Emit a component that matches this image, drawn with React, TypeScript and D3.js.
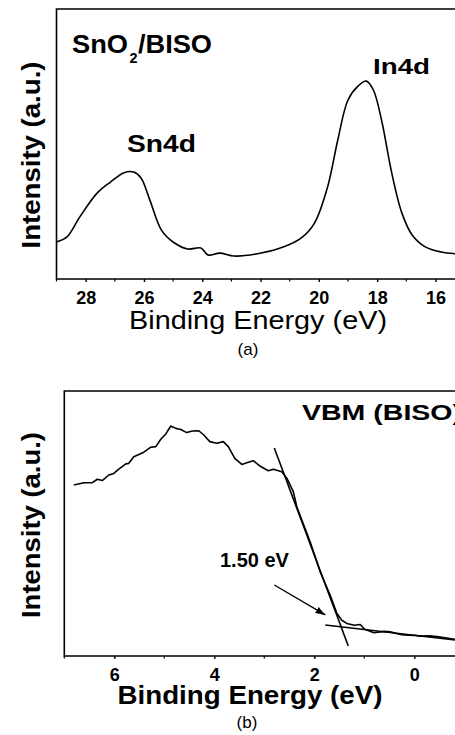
import React, { useEffect, useRef } from "react";
import * as d3 from "d3";

// panel (a): SnO2/BISO core levels
const energyA = [29, 28.64, 28.2, 27.6, 27.15, 26.7, 26.35, 26.1, 25.8, 25.4, 25.0, 24.5, 24.05, 23.8, 23.4, 22.9, 21.98, 21.2, 20.6, 20.15, 19.7, 19.35, 19.0, 18.65, 18.37, 18.13, 17.85, 17.5, 17.15, 16.8, 16.35, 15.8, 15.25];
const intensityA = [13.7, 15.6, 23.0, 31.9, 35.9, 39.3, 39.6, 37.4, 29.3, 18.1, 13.7, 11.1, 11.5, 8.9, 9.6, 8.5, 9.6, 11.9, 15.2, 20.7, 34.1, 51.5, 66.3, 71.5, 73.3, 70.0, 58.9, 39.3, 24.4, 16.3, 11.9, 10.0, 9.3];
const ticksA = [28, 26, 24, 22, 20, 18, 16];
const minorA = [29, 27, 25, 23, 21, 19, 17, 15];

// panel (b): valence band
const energyB = [6.81, 6.61, 6.44, 6.34, 6.24, 6.11, 6.01, 5.91, 5.77, 5.71, 5.61, 5.41, 5.27, 5.17, 5.07, 4.97, 4.87, 4.77, 4.67, 4.55, 4.44, 4.31, 4.21, 4.09, 3.95, 3.82, 3.72, 3.59, 3.45, 3.32, 3.22, 3.09, 2.92, 2.82, 2.65, 2.55, 2.42, 2.35, 2.08, 1.88, 1.68, 1.55, 1.45, 1.35, 1.2, 1.08, 1.0, 0.81, 0.6, 0.48, 0.3, 0.21, 0.0, -0.12, -0.3, -0.45, -0.82];
const intensityB = [64.5, 65.4, 65.4, 66.7, 66.2, 68.3, 68.9, 70.5, 72.5, 72.7, 75.2, 76.9, 78.8, 79.0, 81.8, 83.8, 86.8, 85.9, 85.5, 84.3, 84.9, 85.0, 83.4, 80.9, 80.3, 80.9, 79.0, 74.6, 72.3, 73.1, 73.7, 71.7, 69.9, 70.5, 69.5, 67.1, 62.0, 56.3, 42.9, 31.6, 22.8, 16.1, 13.5, 12.3, 11.6, 11.9, 10.2, 8.8, 9.3, 9.1, 8.2, 7.9, 7.8, 7.5, 7.6, 7.3, 6.3];
const ticksB = [6, 4, 2, 0];
const minorB = [7, 5, 3, 1, -1];

// linear extrapolation lines and arrow for the VBM onset
const edgeLine = [[2.8, 78.5], [1.32, 3.8]];
const baseLine = [[1.78, 11.7], [-0.82, 6.0]];
const arrowPts = [[2.8, 26.8], [1.78, 15.5]];

const font = "'Liberation Sans', Arial, sans-serif";

function App() {
  const ref = useRef(null);

  useEffect(() => {
    const svg = d3.select(ref.current);
    svg.selectAll("*").remove();

    svg.append("rect").attr("width", 455).attr("height", 735).attr("fill", "#fff");

    svg.append("defs").append("marker")
      .attr("id", "arrowhead")
      .attr("viewBox", "0 0 10 10")
      .attr("refX", 10).attr("refY", 5)
      .attr("markerWidth", 7).attr("markerHeight", 7)
      .attr("orient", "auto")
      .append("path")
      .attr("d", "M0,1.5 L10,5 L0,8.5 Z")
      .attr("fill", "#000");

    // ---------- panel (a) ----------
    const xA = d3.scaleLinear().domain([29, 15]).range([56.5, 56.5 + 14 * 29.15]);
    const yA = d3.scaleLinear().domain([0, 100]).range([279, 9]);

    const gA = svg.append("g");
    // frame
    gA.append("path")
      .attr("d", `M${xA(15)},${yA(100)} L${xA(29)},${yA(100)} L${xA(29)},${yA(0)} L${xA(15)},${yA(0)}`)
      .attr("fill", "none").attr("stroke", "#000").attr("stroke-width", 1.6);

    const axA = gA.append("g")
      .attr("transform", `translate(0,${yA(0)})`)
      .call(d3.axisBottom(xA).tickValues(ticksA).tickSize(3).tickSizeOuter(0));
    axA.select(".domain").remove();
    axA.selectAll("line").attr("stroke-width", 1.4);
    axA.selectAll("text")
      .attr("y", 25).attr("dy", 0)
      .style("font-family", font).style("font-size", "18px").style("font-weight", "bold")
      .attr("fill", "#000");
    gA.append("g").selectAll("line").data(minorA).enter().append("line")
      .attr("x1", d => xA(d)).attr("x2", d => xA(d))
      .attr("y1", yA(0)).attr("y2", yA(0) + 2.5)
      .attr("stroke", "#000").attr("stroke-width", 1.2);

    const lineA = d3.line()
      .x(i => xA(energyA[i]))
      .y(i => yA(intensityA[i]))
      .curve(d3.curveCatmullRom.alpha(0.5));
    gA.append("path")
      .attr("d", lineA(d3.range(energyA.length)))
      .attr("fill", "none").attr("stroke", "#000").attr("stroke-width", 1.6);

    gA.append("text")
      .attr("x", 258).attr("y", 329)
      .attr("text-anchor", "middle")
      .attr("textLength", 258).attr("lengthAdjust", "spacingAndGlyphs")
      .style("font-family", font).style("font-size", "26px")
      .text("Binding Energy (eV)");

    gA.append("text")
      .attr("transform", `translate(40,155) rotate(-90)`)
      .attr("text-anchor", "middle")
      .attr("textLength", 187).attr("lengthAdjust", "spacingAndGlyphs")
      .style("font-family", font).style("font-size", "26px").style("font-weight", "bold")
      .text("Intensity (a.u.)");

    const lbl = (g, x, y, size, len, txt) =>
      g.append("text")
        .attr("x", x).attr("y", y)
        .attr("textLength", len).attr("lengthAdjust", "spacingAndGlyphs")
        .style("font-family", font).style("font-size", size + "px").style("font-weight", "bold")
        .text(txt);

    lbl(gA, 72, 53, 25, 56, "SnO");
    lbl(gA, 129.5, 63, 15, 8, "2");
    lbl(gA, 138, 53, 25, 74, "/BISO");
    lbl(gA, 373, 74, 22, 57, "In4d");
    lbl(gA, 127, 152, 23, 69, "Sn4d");

    gA.append("text")
      .attr("x", 248).attr("y", 355)
      .attr("text-anchor", "middle")
      .style("font-family", font).style("font-size", "17px")
      .text("(a)");

    // ---------- panel (b) ----------
    const xB = d3.scaleLinear().domain([7, -1]).range([64.3, 464.3]);
    const yB = d3.scaleLinear().domain([0, 100]).range([656, 391]);

    const gB = svg.append("g");
    gB.append("path")
      .attr("d", `M${xB(-1)},${yB(100)} L${xB(7)},${yB(100)} L${xB(7)},${yB(0)} L${xB(-1)},${yB(0)}`)
      .attr("fill", "none").attr("stroke", "#000").attr("stroke-width", 1.6);

    const axB = gB.append("g")
      .attr("transform", `translate(0,${yB(0)})`)
      .call(d3.axisBottom(xB).tickValues(ticksB).tickSize(3).tickSizeOuter(0));
    axB.select(".domain").remove();
    axB.selectAll("line").attr("stroke-width", 1.4);
    axB.selectAll("text")
      .attr("y", 25).attr("dy", 0)
      .style("font-family", font).style("font-size", "18px").style("font-weight", "bold")
      .attr("fill", "#000");
    gB.append("g").selectAll("line").data(minorB).enter().append("line")
      .attr("x1", d => xB(d)).attr("x2", d => xB(d))
      .attr("y1", yB(0)).attr("y2", yB(0) + 2.5)
      .attr("stroke", "#000").attr("stroke-width", 1.2);

    const lineB = d3.line()
      .x(i => xB(energyB[i]))
      .y(i => yB(intensityB[i]))
      .curve(d3.curveLinear);
    gB.append("path")
      .attr("d", lineB(d3.range(energyB.length)))
      .attr("fill", "none").attr("stroke", "#000").attr("stroke-width", 1.6)
      .attr("stroke-linejoin", "round");

    const seg = d3.line().x(d => xB(d[0])).y(d => yB(d[1]));
    gB.append("path").attr("d", seg(edgeLine))
      .attr("fill", "none").attr("stroke", "#000").attr("stroke-width", 1.6);
    gB.append("path").attr("d", seg(baseLine))
      .attr("fill", "none").attr("stroke", "#000").attr("stroke-width", 1.6);
    gB.append("path").attr("d", seg(arrowPts))
      .attr("fill", "none").attr("stroke", "#000").attr("stroke-width", 1.4)
      .attr("marker-end", "url(#arrowhead)");

    gB.append("text")
      .attr("x", 220).attr("y", 567)
      .style("font-family", font).style("font-size", "20px").style("font-weight", "bold")
      .text("1.50 eV");

    lbl(gB, 302, 420, 22.5, 160, "VBM (BISO)");

    gB.append("text")
      .attr("x", 250).attr("y", 704)
      .attr("text-anchor", "middle")
      .attr("textLength", 265).attr("lengthAdjust", "spacingAndGlyphs")
      .style("font-family", font).style("font-size", "25px").style("font-weight", "bold")
      .text("Binding Energy (eV)");

    gB.append("text")
      .attr("transform", `translate(40,525) rotate(-90)`)
      .attr("text-anchor", "middle")
      .attr("textLength", 186).attr("lengthAdjust", "spacingAndGlyphs")
      .style("font-family", font).style("font-size", "26px").style("font-weight", "bold")
      .text("Intensity (a.u.)");

    gB.append("text")
      .attr("x", 247).attr("y", 728)
      .attr("text-anchor", "middle")
      .style("font-family", font).style("font-size", "17px")
      .text("(b)");
  }, []);

  return (
    <svg ref={ref} width={455} height={735}
      style={{ position: "absolute", left: 0, top: 0, display: "block" }} />
  );
}

export default App;
